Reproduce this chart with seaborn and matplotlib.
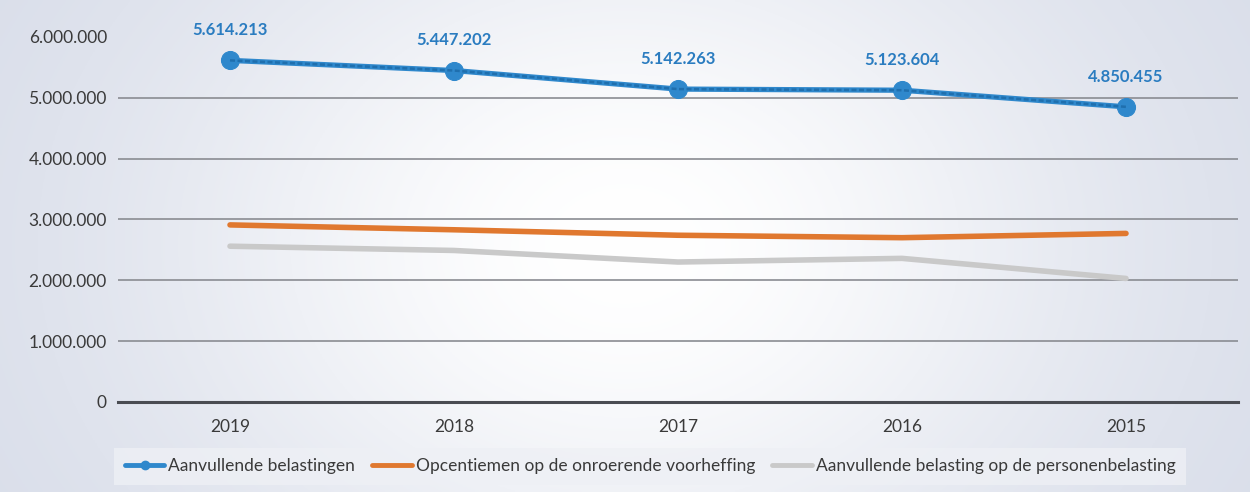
import numpy as np
import pandas as pd
import seaborn as sns
import matplotlib.pyplot as plt
from matplotlib.ticker import FuncFormatter, MultipleLocator, FixedLocator
from matplotlib.lines import Line2D

years = ['2019', '2018', '2017', '2016', '2015']
aanvullende = [5614213, 5447202, 5142263, 5123604, 4850455]
opcentiemen = [2910000, 2830000, 2740000, 2700000, 2770000]
personenbelasting = [2560000, 2490000, 2300000, 2360000, 2030000]
series_names = ['Aanvullende belastingen',
                'Opcentiemen op de onroerende voorheffing',
                'Aanvullende belasting op de personenbelasting']
colors = ['#2f88cc', '#e0782f', '#c9c9c9']

df = pd.DataFrame({
    'jaar': years * 3,
    'waarde': aanvullende + opcentiemen + personenbelasting,
    'reeks': [series_names[0]] * 5 + [series_names[1]] * 5 + [series_names[2]] * 5,
})

sns.set_style('white')
plt.rcParams['font.family'] = ['Lato', 'DejaVu Sans']

fig = plt.figure(figsize=(12.5, 4.92), dpi=100)

# scanned-paper background: bluish grey edges, bright centre
bg = fig.add_axes([0, 0, 1, 1], zorder=-10)
yy, xx = np.mgrid[0:1:200j, 0:1:500j]
glow = np.exp(-(((xx - 0.5) / 0.38) ** 2 + ((yy - 0.5) / 0.75) ** 2))
base = np.array([0.84, 0.86, 0.91])
img = base[None, None, :] + (1 - base)[None, None, :] * glow[..., None]
bg.imshow(np.clip(img, 0, 1), aspect='auto', extent=[0, 1, 0, 1])
bg.axis('off')

ax = fig.add_axes([0.0944, 0.183, 0.896, 0.742])
ax.patch.set_alpha(0)

for name, col in zip(series_names[::-1], colors[::-1]):
    sub = df[df['reeks'] == name]
    if name == series_names[0]:
        sns.lineplot(data=sub, x='jaar', y='waarde', ax=ax, color=col, lw=3.8,
                     marker='o', markersize=13, markeredgecolor=col, sort=False, zorder=5)
        sns.lineplot(data=sub, x='jaar', y='waarde', ax=ax, color='#1f6fae', lw=1.8,
                     linestyle=(0, (2, 1)), sort=False, zorder=6)
    else:
        sns.lineplot(data=sub, x='jaar', y='waarde', ax=ax, color=col, lw=4, sort=False, zorder=4)

for i, v in enumerate(aanvullende):
    ax.annotate(f'{v:,}'.replace(',', '.'), (i, v), xytext=(0, 16), textcoords='offset points',
                ha='center', va='bottom', fontsize=12, fontweight='bold', color='#2a7cc0')

ax.set_xlim(-0.5, 4.5)
ax.set_ylim(0, 6000000)
ax.yaxis.set_major_locator(MultipleLocator(1000000))
ax.yaxis.set_major_formatter(FuncFormatter(lambda v, p: f'{int(v):,}'.replace(',', '.')))
ax.set_xlabel('')
ax.set_ylabel('')

for v in range(1000000, 6000000, 1000000):
    ax.axhline(v, color='#8a8c92', lw=1.2, zorder=1)

for s in ['top', 'right', 'left']:
    ax.spines[s].set_visible(False)
ax.spines['bottom'].set_color('#4a4c52')
ax.spines['bottom'].set_linewidth(2.2)

ax.tick_params(axis='y', length=0, labelsize=12.5, labelcolor='#3a3a3a', pad=8)
ax.tick_params(axis='x', which='major', length=0, labelsize=12.5, labelcolor='#3a3a3a', pad=12)
ax.xaxis.set_minor_locator(FixedLocator(np.arange(-0.5, 5, 1)))
ax.tick_params(axis='x', which='minor', length=6, width=2, color='#4a4c52', direction='out')

handles = [
    Line2D([], [], color=colors[0], lw=3.5, marker='o', markersize=6),
    Line2D([], [], color=colors[1], lw=3.5),
    Line2D([], [], color=colors[2], lw=3.5),
]
leg = fig.legend(handles, series_names, loc='center', bbox_to_anchor=(0.52, 0.052), ncol=3,
                 frameon=True, fontsize=12.5, handlelength=2.3, handletextpad=0.2,
                 columnspacing=1.0, fancybox=False, borderpad=0.6)
leg.get_frame().set_facecolor('#eef0f5')
leg.get_frame().set_edgecolor('none')
for t in leg.get_texts():
    t.set_color('#3a3a3a')

fig.savefig('out.png', dpi=100)
